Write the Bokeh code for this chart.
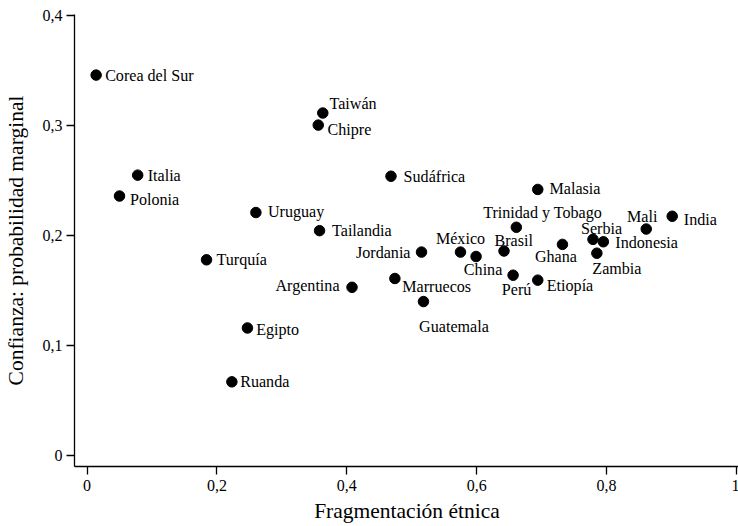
from bokeh.plotting import figure
from bokeh.models import ColumnDataSource, FixedTicker, Range1d
from bokeh.core.properties import value
from bokeh.embed import file_html
from bokeh.resources import INLINE

# --- data -------------------------------------------------------------
countries = ["Corea del Sur", "Italia", "Polonia", "Uruguay", "Tailandia", "Turquía",
             "Argentina", "Egipto", "Ruanda", "Taiwán", "Chipre", "Sudáfrica",
             "Jordania", "Marruecos", "Guatemala", "México", "China", "Brasil",
             "Trinidad y Tobago", "Perú", "Etiopía", "Ghana", "Serbia", "Indonesia",
             "Zambia", "Mali", "India", "Malasia"]
fragmentation = [0.014, 0.078, 0.050, 0.260, 0.358, 0.184,
                 0.408, 0.247, 0.223, 0.363, 0.356, 0.468,
                 0.515, 0.474, 0.518, 0.575, 0.599, 0.642,
                 0.661, 0.656, 0.694, 0.732, 0.779, 0.795,
                 0.785, 0.861, 0.901, 0.694]
trust = [0.346, 0.255, 0.236, 0.221, 0.2045, 0.178,
         0.153, 0.116, 0.067, 0.3115, 0.3005, 0.254,
         0.185, 0.161, 0.140, 0.185, 0.181, 0.186,
         0.2076, 0.164, 0.1595, 0.192, 0.1966, 0.1944,
         0.184, 0.206, 0.2176, 0.242]

x_ticks = [0, 0.2, 0.4, 0.6, 0.8, 1.0]
x_tick_labels = ["0", "0,2", "0,4", "0,6", "0,8", "1"]
y_ticks = [0, 0.1, 0.2, 0.3, 0.4]
y_tick_labels = ["0", "0,1", "0,2", "0,3", "0,4"]

# --- label placement (style) -----------------------------------------
label_style = {
    "Corea del Sur": ("left", 9, 0), "Italia": ("left", 10, 0), "Polonia": ("left", 10.5, 3),
    "Uruguay": ("left", 12, -1.5), "Tailandia": ("left", 12.5, 0), "Turquía": ("left", 10, 0),
    "Argentina": ("right", -12.5, -2), "Egipto": ("left", 8.7, 1.5), "Ruanda": ("left", 8.3, 0),
    "Taiwán": ("left", 6.7, -9.3), "Chipre": ("left", 9.3, 4.7), "Sudáfrica": ("left", 12.6, 0),
    "Jordania": ("right", -11, 0), "Marruecos": ("left", 7.4, 7.7), "Guatemala": ("center", 30.5, 25),
    "México": ("center", 0, -14), "China": ("center", 7, 13.3), "Brasil": ("center", 9.7, -11),
    "Trinidad y Tobago": ("center", 26.3, -14.6), "Perú": ("center", 3.5, 14.6),
    "Etiopía": ("left", 9, 5.7), "Ghana": ("center", -6.5, 12.4), "Serbia": ("center", 8.6, -11),
    "Indonesia": ("left", 12, 0.6), "Zambia": ("center", 20, 15), "Mali": ("center", -4, -12.7),
    "India": ("left", 11.6, 3), "Malasia": ("left", 11.7, -1),
}

FONT = "Liberation Serif"

source = ColumnDataSource(dict(
    x=fragmentation, y=trust, name=countries,
    align=[label_style[c][0] for c in countries],
    dx=[label_style[c][1] for c in countries],
    dy=[label_style[c][2] for c in countries],
))

p = figure(width=739, height=525, output_backend="svg", toolbar_location=None,
           x_range=Range1d(-0.0193, 1.0046), y_range=Range1d(-0.010, 0.4011),
           min_border_left=67, min_border_right=0, min_border_top=14, min_border_bottom=50)

p.outline_line_color = None
p.xgrid.visible = False
p.ygrid.visible = False
p.background_fill_color = "white"
p.border_fill_color = "white"

p.scatter("x", "y", source=source, size=10.5, color="black")
p.text("x", "y", text="name", source=source, x_offset="dx", y_offset="dy",
       text_align="align", text_baseline="middle",
       text_font=value(FONT), text_font_size="16.1px", text_color="black")

for ax, ticks, labels in ((p.xaxis[0], x_ticks, x_tick_labels), (p.yaxis[0], y_ticks, y_tick_labels)):
    ax.ticker = FixedTicker(ticks=ticks)
    ax.major_label_overrides = {t: l for t, l in zip(ticks, labels)}
    ax.minor_tick_line_color = None
    ax.major_tick_in = 0
    ax.major_tick_out = 8
    ax.axis_line_width = 1.3
    ax.major_tick_line_width = 1.3
    ax.axis_line_color = "black"
    ax.major_tick_line_color = "black"
    ax.major_label_text_font = FONT
    ax.major_label_text_font_size = "16px"
    ax.major_label_text_color = "black"
    ax.axis_label_text_font = FONT
    ax.axis_label_text_font_size = "21.5px"
    ax.axis_label_text_font_style = "normal"
    ax.axis_label_text_color = "black"
    ax.major_label_standoff = 5

p.xaxis.axis_label = "Fragmentación étnica"
p.yaxis.axis_label = "Confianza: probabilidad marginal"
p.xaxis.axis_label_standoff = 5
p.yaxis.axis_label_standoff = 12
p.yaxis.major_label_standoff = 4

open("out.html", "w").write(file_html(p, INLINE))
